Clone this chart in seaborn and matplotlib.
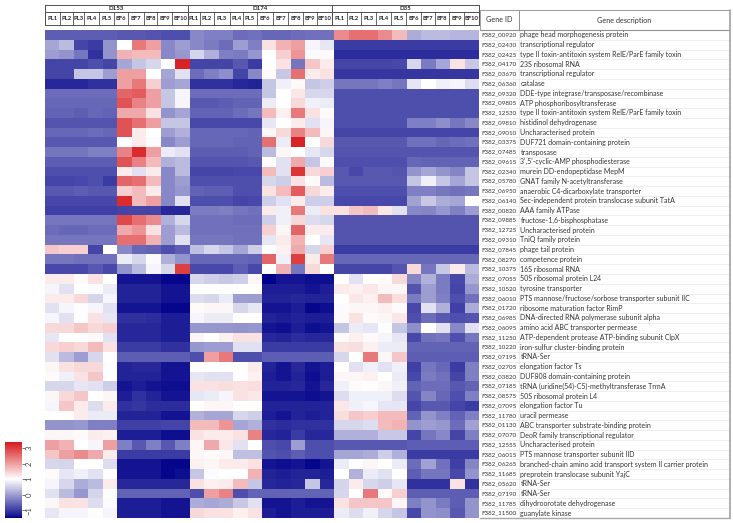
import numpy as np
import seaborn as sns
import matplotlib.pyplot as plt
from matplotlib.colors import LinearSegmentedColormap

groups = ["D153", "D174", "D35"]
samples = ["PL1", "PL2", "PL3", "PL4", "PL5", "BF6", "BF7", "BF8", "BF9", "BF10"]

gene_ids = [
    "F382_00920", "F382_02430", "F382_02425", "F382_04170", "F382_03670", "F382_06360", "F382_09320",
    "F382_09805", "F382_12530", "F382_09810", "F382_09010", "F382_03375", "F382_07485", "F382_09615",
    "F382_02340", "F382_05780", "F382_06950", "F382_06140", "F382_00820", "F382_09885", "F382_12725",
    "F382_09310", "F382_07845", "F382_08270", "F382_10375", "F382_07055", "F382_10520", "F382_06010",
    "F382_01720", "F382_06985", "F382_06095", "F382_11250", "F382_10220", "F382_07195", "F382_02705",
    "F382_03820", "F382_07185", "F382_08575", "F382_07095", "F382_11780", "F382_01130", "F382_07070",
    "F382_12555", "F382_06015", "F382_06265", "F382_11685", "F382_05620", "F382_07190", "F382_11785",
    "F382_11500",
]
gene_desc = [
    "phage head morphogenesis protein", "transcriptional regulator",
    "type II toxin-antitoxin system RelE/ParE family toxin", "23S ribosomal RNA", "transcriptional regulator",
    "catalase", "DDE-type integrase/transposase/recombinase", "ATP phosphoribosyltransferase",
    "type II toxin-antitoxin system RelE/ParE family toxin", "histidinol dehydrogenase",
    "Uncharacterised protein", "DUF721 domain-containing protein", "transposase",
    "3',5'-cyclic-AMP phosphodiesterase", "murein DD-endopeptidase MepM", "GNAT family N-acetyltransferase",
    "anaerobic C4-dicarboxylate transporter", "Sec-independent protein translocase subunit TatA",
    "AAA family ATPase", "fructose-1,6-bisphosphatase", "Uncharacterised protein", "TniQ family protein",
    "phage tail protein", "competence protein", "16S ribosomal RNA", "50S ribosomal protein L24",
    "tyrosine transporter", "PTS mannose/fructose/sorbose transporter subunit IIC",
    "ribosome maturation factor RimP", "DNA-directed RNA polymerase subunit alpha",
    "amino acid ABC transporter permease", "ATP-dependent protease ATP-binding subunit ClpX",
    "iron-sulfur cluster-binding protein", "tRNA-Ser", "elongation factor Ts", "DUF808 domain-containing protein",
    "tRNA (uridine(54)-C5)-methyltransferase TrmA", "50S ribosomal protein L4", "elongation factor Tu",
    "uracil permease", "ABC transporter substrate-binding protein", "DeoR family transcriptional regulator",
    "Uncharacterised protein", "PTS mannose transporter subunit IID",
    "branched-chain amino acid transport system II carrier protein", "preprotein translocase subunit YajC",
    "tRNA-Ser", "tRNA-Ser", "dihydroorotate dehydrogenase", "guanylate kinase",
]

d153 = [
    [-.65, -.65, -.65, -.65, -.65, -.7, -.7, -.75, -.8, -.8],
    [.1, .3, -.9, -1, -.1, 1, 2.4, 2, -.2, 0],
    [0, -.1, -.4, -1.1, -.1, 1.8, 1.7, 1.7, -.2, -.05],
    [-.9, -.9, -.9, -.8, -.9, .1, .4, .6, 1, 3.3],
    [-.9, -.9, .4, .4, 0, 2, 2, 1, .1, .7],
    [-1.2, -1.2, -1.2, -1.1, -1.1, 2, 2.4, 1.5, 0, .1],
    [-.5, -.5, -.5, -.5, -.5, 2.6, 2.7, 2, .4, .9],
    [-.55, -.55, -.55, -.55, -.55, 2.8, 2.3, 2, .4, .9],
    [-.6, -.6, -.65, -.55, -.6, 1.9, 1.9, 1.3, -.1, .1],
    [-.75, -.75, -.75, -.75, -.75, 2.8, 2.5, 2, .4, .4],
    [-.55, -.55, -.55, -.5, -.55, 2.8, 1.2, 1, 0, .2],
    [-.7, -.7, -.7, -.7, -.7, 1, 1.2, .95, -.2, 0],
    [-.4, -.4, -.4, -.3, -.3, 2.3, 3.2, 2, .8, .7],
    [-.65, -.65, -.65, -.65, -.65, 2.8, 2.3, 1.7, .2, .3],
    [-.8, -.8, -.8, -.8, -.8, 1.2, .7, 1.2, -.2, .3],
    [-.9, -.9, -.85, -.8, -1, 2.6, 2.5, 1.7, -.2, 0],
    [-.7, -.7, -.65, -.7, -.7, 1.5, 1.7, 1.2, -.2, -.05],
    [-.85, -.85, -.85, -.85, -.85, 3.2, 1.7, 2, -.2, .7],
    [-.95, -.95, -.95, -.95, -.95, -.9, -.9, -.9, -1.2, -1.2],
    [-.4, -.4, -.4, -.4, -.4, 2.9, 2.5, 2.2, .2, .6],
    [-.5, -.55, -.55, -.5, -.5, 1.9, 2.1, 1.3, 0, .3],
    [-.4, -.4, -.4, -.4, -.4, 2.5, 2.5, 1.8, 0, .7],
    [1.6, 1.5, 1.5, -.9, 1, -.2, -.55, -.6, -.8, -.65],
    [-.4, -.4, -.45, -.45, -.45, .8, .6, .95, .2, -.1],
    [-.85, -.85, -.85, -.7, -.85, -.1, .3, .9, .6, 3],
    [1.2, 1.2, 1.05, 1.3, 1, -1.35, -1.35, -1.35, -1.45, -1.45],
    [.9, .7, 1, .95, .8, -1.25, -1.25, -1.25, -1.35, -1.35],
    [1.2, 1.2, 1.4, .55, .9, -1.25, -1.25, -1.25, -1.35, -1.35],
    [.7, .9, .97, .9, .7, -1.35, -1.35, -1.35, -1.45, -1.45],
    [.9, .7, .97, 1.3, .75, -1.1, -1.1, -1.15, -1.3, -1.3],
    [1.4, 1.4, 1.6, 1.4, 1.5, -1.2, -1.2, -1.2, -1.3, -1.3],
    [.75, 1, 1, 1.05, .7, -1.2, -1.2, -1.2, -1.3, -1.3],
    [1.4, 1.5, 1.4, 1.7, 1.3, -1, -1, -1, -1.1, -1.1],
    [.7, .3, 0, .6, 1, -.65, -.65, -.65, -.65, -.65],
    [1.1, 1.3, 1.4, 1.4, .97, -1.25, -1.2, -1.2, -1.35, -1.35],
    [1.05, .85, 1.3, 1.6, .97, -1.25, -1.25, -1.25, -1.35, -1.35],
    [.6, .6, .75, .7, .5, -1.35, -1.3, -1.35, -1.4, -1.4],
    [1.1, 1.4, 1.6, 1, 1.1, -1.3, -1.1, -1.25, -1.35, -1.35],
    [.9, 1.6, 1.2, .65, 1.2, -1.1, -1.05, -1.15, -1.15, -1.15],
    [1.02, 1.03, 1.2, .8, .8, -1.25, -1.25, -1.25, -1.35, -1.35],
    [-.1, -.1, -.05, -.3, -.3, -.95, -.95, -.95, -.9, -.9],
    [1.1, 1.1, 1.05, 1.2, 1.15, -1.3, -1.3, -1.3, -1.4, -1.4],
    [2, 1.8, 1, .9, 2, -.3, -.7, -.3, -.7, -.3],
    [1.6, 2, 2.2, 1.9, 1.2, -1, -1, -1, -1, -1],
    [.6, .55, 1, 1, .65, -1.35, -1.35, -1.35, -1.45, -1.45],
    [1.05, .75, .85, .7, 1.02, -1.35, -1.35, -1.35, -1.45, -1.4],
    [.9, .6, .15, .3, 1.2, -1.2, -1.2, -1.2, -1.2, -1.2],
    [.7, .3, -.05, .55, .97, -.6, -.6, -.6, -.6, -.6],
    [1.1, 1.3, 1.3, .65, .95, -1.3, -1.3, -1.3, -1.35, -1.35],
    [.75, .9, .9, .97, .9, -1.3, -1.3, -1.3, -1.35, -1.35],
]

d174 = [
    [-.2, -.3, -.3, -.5, -.45, -.55, -.55, -.5, -.45, -.45],
    [-.2, -.35, -.5, 0, -.3, 1.3, 1.8, 2, .9, .75],
    [.55, .2, -.3, -.35, -.05, 1, 1.5, 2.1, .95, 1.05],
    [-.9, -.9, -.9, -.7, -1, .97, 1.3, -.4, 1.6, 1.2],
    [-.5, -.3, -.15, -.9, -.2, 1.05, .45, 2.5, 1.2, 1.3],
    [-1.1, -1.1, -1.1, -1.2, -1.25, .4, .85, 1.05, .4, .5],
    [-.5, -.5, -.5, -.5, -.5, .4, 1, 1.25, .6, .6],
    [-.7, -.7, -.65, -.6, -.6, .8, 1, 1.4, .85, .8],
    [-.6, -.6, -.6, -.5, -.4, 1.7, 1.15, 2.4, 1.3, 1.05],
    [-.85, -.85, -.85, -.85, -.85, .75, 1, 1.2, .7, .9],
    [-.55, -.55, -.55, -.55, -.6, 1.1, 1.4, 2.3, 1.7, 1.1],
    [-.55, -.55, -.55, -.6, -.6, 2.5, .8, 3.3, 1, 1.4],
    [-.65, -.65, -.65, -.65, -.6, .3, 1.1, 1, .75, .6],
    [-.75, -.75, -.75, -.75, -.7, 1, .7, 1.9, .4, .95],
    [-.9, -.9, -.9, -.85, -.85, 1.7, .7, 3.1, 1.4, 1.5],
    [-.8, -.8, -.8, -.8, -.8, .6, .5, 1.3, 1.05, .3],
    [-.6, -.65, -.65, -.8, -.8, 1.3, 1.7, 2.7, 1.4, 1.2],
    [-.8, -.8, -.8, -.9, -.85, .5, .7, 1.2, .5, .5],
    [-.35, -.35, -.3, -.4, -.45, 1.2, .85, 2.4, .8, 1.3],
    [-.45, -.45, -.45, -.5, -.5, .5, .85, 1.4, .65, .6],
    [-.45, -.45, -.45, -.45, -.45, 1.5, 1.1, 2.6, 1.2, 1.2],
    [-.4, -.4, -.4, -.45, -.45, .75, 1.2, 1.8, 1, .75],
    [.35, .6, .4, .1, .5, 1, 1.15, 1.9, .6, 1.5],
    [-.55, -.55, -.55, -.55, -.6, 2.6, .85, 3, 1.2, 2.4],
    [-.85, -.85, -.85, -.65, -.85, 1, 1.8, -.4, 1.4, 1],
    [.6, .5, .45, .5, 1.1, -1.5, -1.35, -1.35, -1.4, -1.4],
    [1, 1, 1, 1, 1, -1.3, -1.3, -1.3, -1.35, -1.3],
    [.65, .6, .8, 0, 0, -1.25, -1.25, -1.2, -1.25, -1.25],
    [1.05, 1.1, 1.1, .6, .75, -1.35, -1.35, -1.3, -1.45, -1.4],
    [.9, .8, .8, 1, 1, -1.25, -1.3, -1.25, -1.3, -1.3],
    [-.05, -.05, -.05, -.1, -.05, -1.35, -1.4, -1.3, -1.4, -1.35],
    [1.1, 1, 1.15, 1.3, 1.3, -1.2, -1.25, -1.15, -1.2, -1.2],
    [-.05, 0, 0, .7, .7, -1, -1, -1, -1, -1],
    [-.8, 2, 2.4, -.8, -.8, -.65, -.65, -.65, -.65, -.65],
    [1, 1, 1, 1, 1.2, -1.25, -1.35, -1.2, -1.35, -1.3],
    [.75, .7, .7, 1, 1.15, -1.3, -1.35, -1.25, -1.4, -1.3],
    [1.3, 1.3, 1.35, 1.3, 1.35, -1.25, -1.25, -1.2, -1.35, -1.2],
    [.75, .8, .9, 1.3, 1.25, -1.35, -1.35, -1.35, -1.4, -1.35],
    [1, 1.1, 1.1, 1, 1, -1.25, -1.25, -1.25, -1.25, -1.25],
    [.2, .1, .1, .6, .5, -1.3, -1.35, -1.25, -1.3, -1.25],
    [1.7, 1.7, 2.1, .1, .2, -1.1, -1.15, -1.1, -1.1, -1.1],
    [1.3, 1.2, 1.2, 1.3, 2.3, -1.2, -1.25, -1, -1.2, -1.2],
    [1.1, 1.9, 1.25, .7, 1, -.8, -.85, 0, -.8, -.8],
    [1.1, 1.05, 1.1, .35, .35, -.75, -.8, -.65, -.8, -.8],
    [1.15, 1.1, 1.2, 1.2, 1.3, -1.35, -1.4, -1.35, -1.45, -1.35],
    [.4, .95, 1, 1, 1.8, -1.25, -1.3, -1.25, -1.25, -1.3],
    [1.3, 1.15, 1.2, 1.7, .4, -1.2, -1.25, -1.2, .4, -1.2],
    [-.8, 2, 2.3, -.8, -.6, -.6, -.6, -.6, -.6, -.6],
    [.15, .1, .15, .45, .7, -1.35, -1.35, -1.3, -1.35, -1.35],
    [1.4, 1.3, 1.3, 1.15, 1.3, -1.3, -1.35, -1.3, -1.3, -1.3],
]

d35 = [
    [2.2, 2.5, 2.5, 2.2, 1.7, .15, .3, .3, .25, .25],
    [-1, -1, -1, -1, -1, -1, -1, -1, -1, -1],
    [-1.15, -1.15, -1.15, -1.15, -1.15, -1.15, -1.15, -1.15, -1.15, -1.15],
    [-.9, -.9, -.9, -.9, -.85, .6, -.35, .1, 1.3, .45],
    [-1.05, -1.05, -1.05, -1.05, -1.05, -1.05, -1.05, -1.05, -1.05, -1.05],
    [-.4, -.4, -.4, -.3, -.4, .75, 1, .85, .9, .65],
    [-.8, -.8, -.8, -.8, -.8, -.8, -.8, -.8, -.8, -.8],
    [-.8, -.8, -.8, -.8, -.8, -.8, -.8, -.8, -.8, -.8],
    [-.8, -.8, -.8, -.8, -.8, -.8, -.8, -.8, -.8, -.8],
    [-.8, -.8, -.8, -.8, -.8, -.3, -.3, -.15, -.4, -.2],
    [-.9, -.9, -.9, -.9, -.9, -.9, -.9, -.9, -.9, -.9],
    [-.7, -.7, -.7, -.7, -.7, -.45, -.45, -.55, -.5, -.45],
    [-.75, -.75, -.75, -.75, -.75, -.75, -.75, -.75, -.75, -.75],
    [-.8, -.8, -.8, -.8, -.8, -.55, -.6, -.6, -.6, -.6],
    [-.7, -.85, -.7, -.7, -.75, -.1, .1, -.1, -.25, .4],
    [-.7, -.7, -.7, -.7, -.7, .4, .85, .4, .1, .4],
    [-.8, -.8, -.8, -.8, -.8, -.3, -.3, -.4, -.45, -.4],
    [-.85, -.85, -.85, -.85, -.85, .05, .45, .15, .1, 1],
    [1.3, 1.6, 1.7, 1.25, .7, -.2, -.25, -.05, -.3, 0],
    [-.75, -.75, -.75, -.75, -.75, -.75, -.75, -.75, -.75, -.75],
    [-.75, -.75, -.75, -.75, -.75, -.75, -.75, -.75, -.75, -.75],
    [-.75, -.75, -.75, -.75, -.75, -.75, -.75, -.75, -.75, -.75],
    [-1, -1, -1, -1, -1, -1, -1, -1, -1, -1],
    [-.55, -.55, -.55, -.55, -.55, -.55, -.55, -.55, -.55, -.55],
    [-.9, -.9, -.9, -.9, -.75, 1.4, -.4, .45, 1.2, .3],
    [1, .7, 1, 1.05, 1.4, -.25, .2, -.35, -.85, .15],
    [1.2, 1.15, 1.25, 1.1, 1.1, -.75, 0, -.35, -.9, -.05],
    [1, 1.25, 1.15, 1.7, 1.35, -.35, 0, -.3, -.8, -.45],
    [.95, 1.1, 1.1, 1.15, .95, -.85, .7, .2, -.95, .15],
    [1.05, 1.3, 1.05, 1.1, 1.25, -.8, -.5, -.7, -.8, -.75],
    [.4, .8, .75, .97, .4, -.15, 1, .7, -.2, .7],
    [1.05, 1.15, 1.05, .9, .75, -.85, -.45, -.4, -.8, -.4],
    [1.3, 1.35, 1.15, .8, .8, -.6, -.6, -.6, -.6, -.6],
    [.6, 1, 2.4, 1.1, 1.6, -.65, -.65, -.65, -.65, -.65],
    [1, .7, .85, .7, .85, -.95, -.4, -.55, -1, -.3],
    [1.1, 1.1, 1.15, 1, .8, -.85, -.35, -.45, -.9, -.3],
    [.85, 1.05, 1.02, 1.1, .85, -.6, -.5, -.5, -.7, -.6],
    [.65, .85, .85, .85, .65, -.75, -.25, -.55, -.8, -.3],
    [1.25, .85, .9, .75, .75, -.9, -.7, -.7, -.9, -1],
    [1.35, 1.6, 1.5, 1.7, 1.7, -.6, -.1, -.3, -.6, -.3],
    [.6, .6, .65, 1.7, 1.8, -.1, 0, -.05, -.5, .05],
    [.2, .2, .2, .45, .45, -.9, -.4, -.2, -.9, -.3],
    [-.7, -.7, -.7, -.7, -.7, -.65, -.65, -.65, -.65, -.65],
    [.1, .1, .15, .5, .2, -1, -1, -1, -1, -1],
    [.8, 1, 1.1, 1, .8, -.5, .05, -.45, -.95, -.25],
    [1, .2, .8, .7, 1, -.65, -.4, -.4, -.85, -.1],
    [.55, 1.2, .6, .5, .75, -1.1, -1.1, -1.1, 1.3, -1.1],
    [.6, 1, 2.4, 1.05, 1.5, -.65, -.65, -.65, -.65, -.65],
    [1.3, 1.6, 1.6, 1.6, 1.1, -.3, -.1, -.35, -.65, -.1],
    [.8, .65, .85, .6, .4, -.85, -.1, -.15, -.7, -.1],
]

W, H = 733, 523
sns.set_style("white")
plt.rcParams['font.family'] = ['Lato', 'DejaVu Sans']


def box(left, top, right, bottom):
    # pixel box -> figure fraction rect
    return [left / W, 1 - bottom / H, (right - left) / W, (bottom - top) / H]


vmin, vmax = -1.5, 3.4


def frac(v):
    return (v - vmin) / (vmax - vmin)


cmap = LinearSegmentedColormap.from_list(
    "bwr_dark", [(0, "#00008b"), (frac(-1.3), "#1e1e96"), (frac(1.0), "#ffffff"), (1, "#d7191c")])

matrix = np.hstack([np.array(d153), np.array(d174), np.array(d35)])

fig = plt.figure(figsize=(W / 100, H / 100), dpi=100)
ax = fig.add_axes(box(45, 30, 479, 518))
cax = fig.add_axes(box(5, 442, 21.5, 518))
sns.heatmap(matrix, ax=ax, cmap=cmap, vmin=vmin, vmax=vmax, cbar_ax=cax,
            xticklabels=False, yticklabels=False, cbar_kws={"ticks": [-1, 0, 1, 2, 3]})
cax.tick_params(labelsize=5.5, length=2, width=0.5, pad=1, colors="#444444", right=True)
for t in cax.get_yticklabels():
    t.set_rotation(90)
    t.set_va("center")

# overlay in pixel coordinates for the header and gene table
ov = fig.add_axes([0, 0, 1, 1], zorder=5)
ov.set_xlim(0, W)
ov.set_ylim(H, 0)
ov.axis("off")
ov.patch.set_alpha(0)

group_edges = [45, 188, 332, 479]
col_edges = [45, 60, 72.5, 84, 99, 114, 128, 144, 157, 172, 188,
             200, 214, 230, 243, 257, 273, 288, 303, 317, 332,
             347, 361, 376, 391, 406, 421, 435, 449, 464, 479]
dark = "#505050"
ov.plot([45, 479], [4.5, 4.5], color=dark, lw=0.7)
ov.plot([45, 479], [12, 12], color=dark, lw=0.7)
ov.plot([45, 479], [24.5, 24.5], color=dark, lw=0.7)
for x in group_edges:
    ov.plot([x, x], [4.5, 24.5], color=dark, lw=0.7)
for x in col_edges:
    ov.plot([x, x], [12, 24.5], color=dark, lw=0.6)
for i, name in enumerate(groups):
    ov.text((group_edges[i] + group_edges[i + 1]) / 2, 8.4, name, fontsize=4.4,
            ha="center", va="center", color="#222222", fontweight="bold")
for i, name in enumerate(samples * 3):
    ov.text((col_edges[i] + col_edges[i + 1]) / 2, 18.5, name, fontsize=4.2,
            ha="center", va="center", color="#222222", fontweight="bold")

# gene table
row_h = 488 / len(gene_ids)
grid = "#e2e2e2"
for i, (gid, desc) in enumerate(zip(gene_ids, gene_desc)):
    yc = 30 + row_h * (i + 0.5)
    ov.text(481, yc, gid, fontsize=4.5, ha="left", va="center", color="#333333")
    ov.text(520.5, yc, desc, fontsize=5.05, ha="left", va="center", color="#333333")
    ov.plot([480, 729], [30 + row_h * (i + 1)] * 2, color=grid, lw=0.4)
ov.plot([518.5, 518.5], [30, 518], color=grid, lw=0.4)
ov.plot([518.5, 518.5], [10, 30], color="#909090", lw=0.7)
ov.plot([480, 730], [10, 10], color="#a0a0a0", lw=0.8)
ov.plot([480, 730], [30, 30], color="#909090", lw=0.8)
ov.plot([480, 480], [10, 30], color="#a0a0a0", lw=0.7)
ov.plot([729.5, 729.5], [10, 518], color="#a8a8a8", lw=1.3)
ov.plot([480, 730], [518, 518], color="#a8a8a8", lw=1.0)
ov.text(499, 20, "Gene ID", fontsize=5.2, ha="center", va="center", color="#333333")
ov.text(624, 20, "Gene description", fontsize=5.2, ha="center", va="center", color="#333333")

fig.savefig("out.png", dpi=100)
